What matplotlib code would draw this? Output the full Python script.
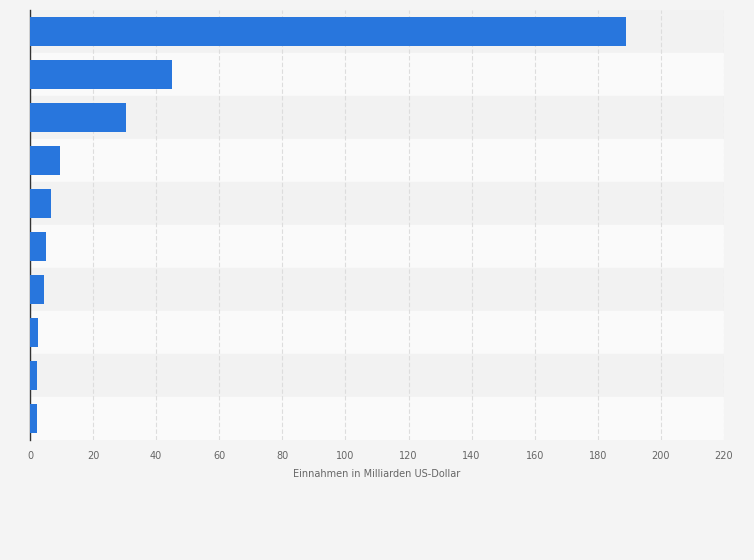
import matplotlib
matplotlib.use("Agg")
import matplotlib.pyplot as plt

categories = [f"Kategorie {i}" for i in range(1, 11)]
values = [189, 45, 30.5, 9.5, 6.6, 5.1, 4.5, 2.5, 2.2, 2.2]
xticks = list(range(0, 221, 20))

fig = plt.figure(figsize=(7.54, 5.60), dpi=100, facecolor="#f4f4f4")
ax = fig.add_axes([30 / 754, 1 - 440 / 560, 694 / 754, 430 / 560])
ax.set_facecolor("#fafafa")

n = len(categories)
pos = list(range(n))
for i in pos:
    ax.axhspan(i - 0.5, i + 0.5, color="#f2f2f2" if i % 2 == 0 else "#fafafa", zorder=0)

ax.barh(pos, values, height=0.68, color="#2876dd", zorder=3)
ax.set_ylim(n - 0.5, -0.5)
ax.set_xlim(0, 220)
ax.set_yticks([])
ax.set_xticks(xticks)
ax.set_xticklabels([str(t) for t in xticks], fontsize=7, color="#666666")
ax.tick_params(axis="x", length=0, pad=8)
ax.grid(axis="x", color="#dddddd", linewidth=0.8, linestyle=(0, (4, 2)), zorder=1)
for s in ["top", "right", "bottom"]:
    ax.spines[s].set_visible(False)
ax.spines["left"].set_color("#333333")
ax.spines["left"].set_linewidth(1)
ax.set_xlabel("Einnahmen in Milliarden US-Dollar", fontsize=7, color="#666666", labelpad=6)

fig.savefig("out.png", dpi=100, facecolor=fig.get_facecolor())
